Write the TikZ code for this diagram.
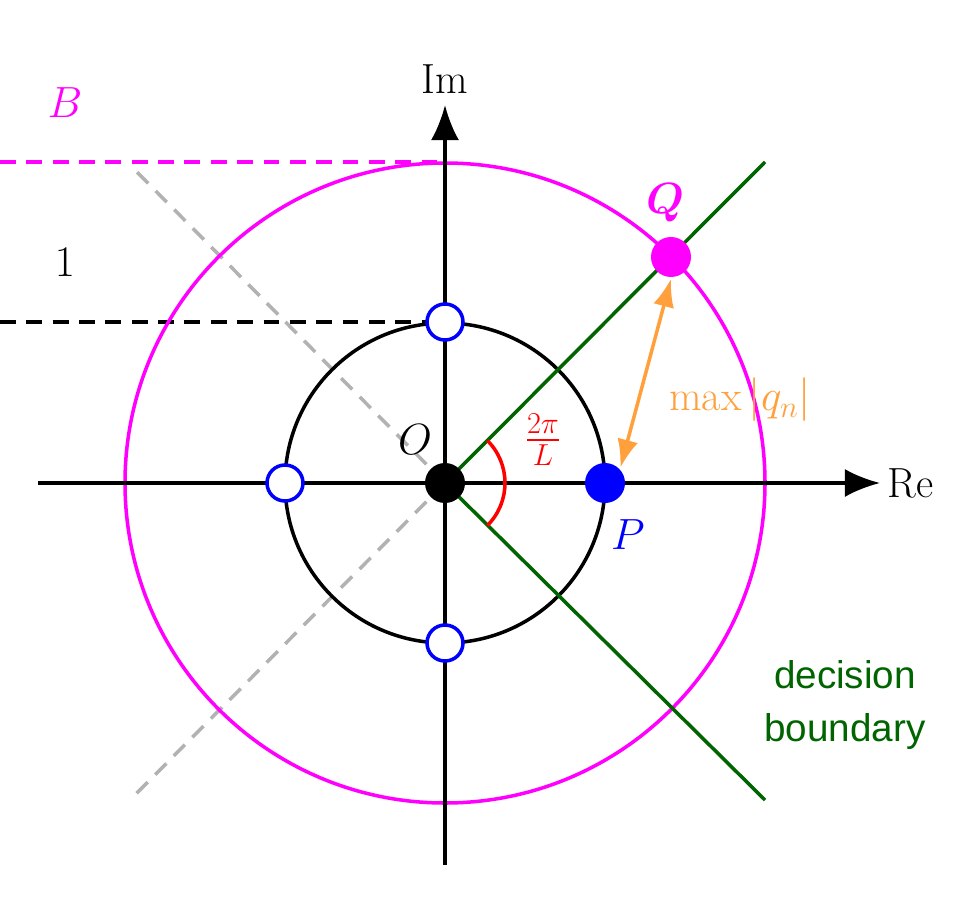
\documentclass[tikz,border=0pt]{standalone}
\usepackage{amsmath}
\usepackage{fontspec}
\newfontfamily\labelsans{Liberation Sans}
\usetikzlibrary{arrows.meta}
\definecolor{dgreen}{RGB}{0,100,0}
\definecolor{qorange}{RGB}{255,160,60}
\definecolor{bmagenta}{RGB}{255,0,255}
\definecolor{dblue}{RGB}{0,0,255}
\begin{document}
\begin{tikzpicture}[x=0.02cm,y=-0.02cm,line width=2pt,font=\fontsize{24}{28}\selectfont]
\tikzset{opendot/.style={circle,draw=dblue,fill=white,line width=2pt,minimum size=0.72cm,inner sep=0pt},
  fulldot/.style={circle,minimum size=0.8cm,inner sep=0pt}}
\useasboundingbox (0,0) rectangle (970,909);
\coordinate (o) at (445,483);
% guide lines
\draw [gray!60,dash pattern=on 9pt off 6pt] (o) -- (130,165);
\draw [gray!60,dash pattern=on 9pt off 6pt] (o) -- (130,800);
\draw [bmagenta,dash pattern=on 9pt off 6pt] (0,162) -- (445,162);
\draw [black,dash pattern=on 9pt off 6pt] (0,322) -- (445,322);
% circles
\draw [bmagenta] (o) circle (320);
\draw [black] (o) circle (160);
% axes
\draw [-{Latex[length=20pt,width=16pt]}] (38,483) -- (880,483) node (re) [right] {Re};
\draw [-{Latex[length=20pt,width=16pt]}] (445,865) -- (445,105) node (im) [above=2pt] {Im};
% decision boundary
\draw [dgreen] (o) -- (765,162);
\draw [dgreen] (o) -- (765,800);
\draw [red] (o) ++(-45:60) arc (-45:45:60);
% points
\node (p1) [opendot] at (445,322) {};
\node (p2) [opendot] at (285,483) {};
\node (p3) [opendot] at (445,643) {};
\node (pO) [fulldot,fill=black] at (o) {};
\node (pP) [fulldot,fill=dblue] at (605,483) {};
\node (pQ) [fulldot,fill=bmagenta] at (671,257) {};
\draw [qorange,{Latex[length=16pt,width=12pt]}-{Latex[length=16pt,width=12pt]}] (pP.north east) -- (pQ.south);
% labels
\node (lB) [bmagenta] at (65,103) {$B$};
\node (l1) at (65,262) {$1$};
\node (lO) at (415,440) {$O$};
\node (lP) [dblue] at (628,535) {$P$};
\node (lQ) [bmagenta] at (665,203) {$\boldsymbol{Q}$};
\node (lang) [red] at (543,440) {$\frac{2\pi}{L}$};
\node (lmax) [qorange] at (740,400) {$\max|q_n|$};
\node (ldec) [dgreen,align=center,font=\labelsans\fontsize{22}{30}\selectfont] at (845,705) {decision\\boundary};
\end{tikzpicture}
\end{document}
